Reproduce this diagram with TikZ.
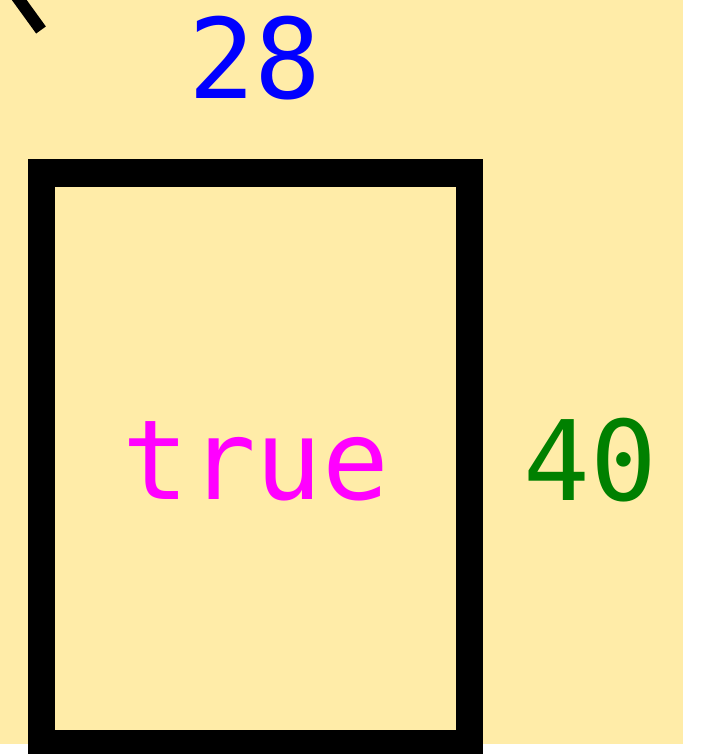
\documentclass[tikz,border=0pt]{standalone}
\usepackage{fontspec}
\setmonofont{DejaVu Sans Mono}
\definecolor{bgyellow}{HTML}{FFECA8}
\definecolor{numblue}{HTML}{0000FF}
\definecolor{valmag}{HTML}{FF00FF}
\definecolor{numgreen}{HTML}{008000}
\tikzset{
  lbl/.style={font=\ttfamily\fontsize{111}{111}\selectfont, inner sep=0pt, anchor=base},
  cellbox/.style={draw=black, line width=27pt, inner sep=0pt, minimum width=427.5pt, minimum height=570.5pt}
}
\begin{document}
\begin{tikzpicture}[x=1pt,y=-1pt]
\useasboundingbox (0,0) rectangle (702,754);
\clip (0,0) rectangle (702,754);
\fill[bgyellow] (0,0) rectangle (683,744);
\coordinate (ls) at (12,-10);
\coordinate (le) at (41,30);
\draw[line width=12pt] (ls) -- (le);
\node[cellbox] (cell) at (255.25,458.25) {};
\node[lbl, text=valmag] (val) at (256,499) {true};
\node[lbl, text=numblue] (top) at (255,99) {28};
\node[lbl, text=numgreen] (side) at (590,500) {40};
\end{tikzpicture}
\end{document}
